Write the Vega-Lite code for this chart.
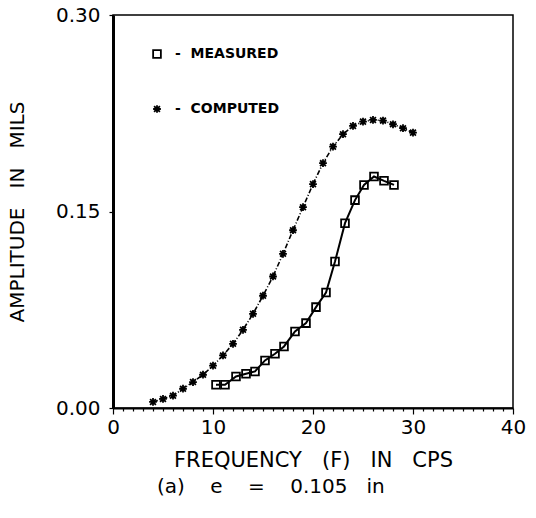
{
  "$schema": "https://vega.github.io/schema/vega-lite/v6.json",
  "width": 400,
  "height": 393,
  "autosize": {"type": "none"},
  "padding": {"left": 113, "top": 15, "right": 23, "bottom": 110},
  "background": "white",
  "title": {
    "text": "(a)\u00a0\u00a0\u00a0 e\u00a0\u00a0\u00a0 =\u00a0\u00a0\u00a0 0.105\u00a0\u00a0 in",
    "orient": "bottom",
    "anchor": "start",
    "frame": "group",
    "dx": 44,
    "offset": 7,
    "font": "DejaVu Sans",
    "fontSize": 20,
    "fontWeight": "normal",
    "color": "black"
  },
  "config": {
    "view": {"stroke": "black", "strokeWidth": 1.5},
    "font": "DejaVu Sans",
    "axis": {
      "grid": false,
      "domainColor": "black",
      "tickColor": "black",
      "labelColor": "black",
      "titleColor": "black",
      "labelFont": "DejaVu Sans",
      "titleFont": "DejaVu Sans",
      "labelFontSize": 20,
      "titleFontSize": 20,
      "titleFontWeight": "normal"
    }
  },
  "data": {
    "values": [
      {"series": "COMPUTED", "f": 4, "a": 0.0046},
      {"series": "COMPUTED", "f": 5, "a": 0.0069},
      {"series": "COMPUTED", "f": 6, "a": 0.0094},
      {"series": "COMPUTED", "f": 7, "a": 0.0147},
      {"series": "COMPUTED", "f": 8, "a": 0.0198},
      {"series": "COMPUTED", "f": 9, "a": 0.0254},
      {"series": "COMPUTED", "f": 10, "a": 0.0323},
      {"series": "COMPUTED", "f": 11, "a": 0.0401},
      {"series": "COMPUTED", "f": 12, "a": 0.049},
      {"series": "COMPUTED", "f": 13, "a": 0.0597},
      {"series": "COMPUTED", "f": 14, "a": 0.0719},
      {"series": "COMPUTED", "f": 15, "a": 0.0857},
      {"series": "COMPUTED", "f": 16, "a": 0.1004},
      {"series": "COMPUTED", "f": 17, "a": 0.1177},
      {"series": "COMPUTED", "f": 18, "a": 0.1357},
      {"series": "COMPUTED", "f": 19, "a": 0.1533},
      {"series": "COMPUTED", "f": 20, "a": 0.1709},
      {"series": "COMPUTED", "f": 21, "a": 0.1869},
      {"series": "COMPUTED", "f": 22, "a": 0.1995},
      {"series": "COMPUTED", "f": 23, "a": 0.209},
      {"series": "COMPUTED", "f": 24, "a": 0.2153},
      {"series": "COMPUTED", "f": 25, "a": 0.2186},
      {"series": "COMPUTED", "f": 26, "a": 0.2199},
      {"series": "COMPUTED", "f": 27, "a": 0.2194},
      {"series": "COMPUTED", "f": 28, "a": 0.2166},
      {"series": "COMPUTED", "f": 29, "a": 0.2136},
      {"series": "COMPUTED", "f": 30, "a": 0.2102},
      {"series": "MEASURED", "f": 10.3, "a": 0.0178},
      {"series": "MEASURED", "f": 11.2, "a": 0.0178},
      {"series": "MEASURED", "f": 12.3, "a": 0.0241},
      {"series": "MEASURED", "f": 13.3, "a": 0.0262},
      {"series": "MEASURED", "f": 14.2, "a": 0.0279},
      {"series": "MEASURED", "f": 15.2, "a": 0.0363},
      {"series": "MEASURED", "f": 16.2, "a": 0.0414},
      {"series": "MEASURED", "f": 17.1, "a": 0.047},
      {"series": "MEASURED", "f": 18.2, "a": 0.0584},
      {"series": "MEASURED", "f": 19.3, "a": 0.0648},
      {"series": "MEASURED", "f": 20.3, "a": 0.077},
      {"series": "MEASURED", "f": 21.3, "a": 0.0882},
      {"series": "MEASURED", "f": 22.2, "a": 0.1118},
      {"series": "MEASURED", "f": 23.2, "a": 0.1411},
      {"series": "MEASURED", "f": 24.2, "a": 0.1587},
      {"series": "MEASURED", "f": 25.1, "a": 0.1703},
      {"series": "MEASURED", "f": 26.1, "a": 0.1767},
      {"series": "MEASURED", "f": 27.1, "a": 0.1734},
      {"series": "MEASURED", "f": 28.1, "a": 0.1703}
    ]
  },
  "encoding": {
    "x": {
      "field": "f",
      "type": "quantitative",
      "scale": {"domain": [0, 40], "nice": false},
      "axis": {
        "title": "FREQUENCY\u00a0\u00a0 (F)\u00a0\u00a0 IN\u00a0\u00a0 CPS",
        "values": [0,1,2,3,4,5,6,7,8,9,10,11,12,13,14,15,16,17,18,19,20,21,22,23,24,25,26,27,28,29,30,31,32,33,34,35,36,37,38,39,40],
        "labelExpr": "datum.value % 10 === 0 ? datum.label : ''",
        "tickSize": {"condition": {"test": "datum.value % 10 === 0", "value": 6}, "value": 3},
        "tickWidth": 1.2,
        "domainWidth": 2,
        "labelPadding": 3,
        "labelFlush": false,
        "labelOverlap": false,
        "titlePadding": 12,
        "titleFontSize": 21
      }
    },
    "y": {
      "field": "a",
      "type": "quantitative",
      "scale": {"domain": [0, 0.3], "nice": false},
      "axis": {
        "title": "AMPLITUDE\u00a0\u00a0 IN\u00a0\u00a0 MILS",
        "values": [0, 0.15, 0.3],
        "format": ".2f",
        "tickSize": 4,
        "tickWidth": 1.2,
        "domainWidth": 3,
        "labelPadding": 9,
        "labelFlush": false,
        "titlePadding": 28
      }
    }
  },
  "layer": [
    {
      "transform": [{"filter": "datum.series === 'MEASURED'"}],
      "mark": {"type": "line", "color": "black", "strokeWidth": 2},
      "encoding": {}
    },
    {
      "transform": [{"filter": "datum.series === 'COMPUTED'"}],
      "mark": {"type": "line", "color": "black", "strokeWidth": 1.6, "strokeDash": [5, 2, 1, 2]},
      "encoding": {}
    },
    {
      "mark": {"type": "point", "color": "black", "filled": false, "strokeWidth": 1.8, "size": 60, "opacity": 1},
      "encoding": {
        "shape": {
          "field": "series",
          "type": "nominal",
          "scale": {
            "domain": ["MEASURED", "COMPUTED"],
            "range": ["square", "M-1,0L1,0M0,-1L0,1M-0.75,-0.75L0.75,0.75M-0.75,0.75L0.75,-0.75"]
          },
          "legend": {
            "title": null,
            "orient": "none",
            "legendX": 37,
            "legendY": 32,
            "padding": 0,
            "rowPadding": 39,
            "labelFont": "DejaVu Sans",
            "labelFontSize": 14,
            "labelFontWeight": "bold",
            "labelColor": "black",
            "labelOffset": 11,
            "symbolSize": 60,
            "symbolStrokeColor": "black",
            "symbolStrokeWidth": 1.8,
            "symbolFillColor": "transparent",
            "labelExpr": "'-\u00a0 ' + datum.label"
          }
        }
      }
    }
  ]
}
